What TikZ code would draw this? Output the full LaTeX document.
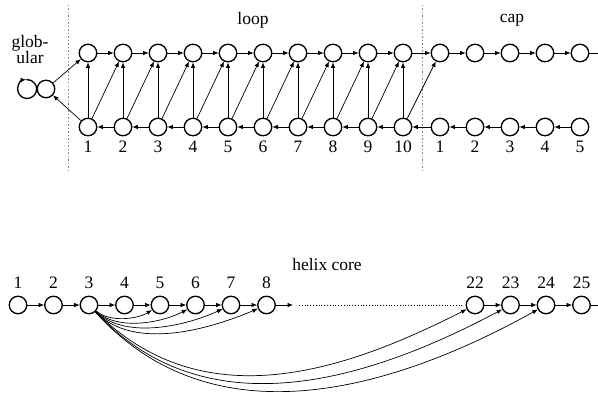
\documentclass[tikz,border=0pt]{standalone}
\usepackage{fontspec}
\setmainfont{Liberation Serif}
\usetikzlibrary{arrows.meta}
\begin{document}
\begin{tikzpicture}[x=1pt,y=1pt,
  res/.style={circle,draw,line width=1.3pt,minimum size=17.5pt,inner sep=0pt},
  arr/.style={line width=0.7pt,-{Latex[length=5.5pt,width=4.5pt]}},
  lbl/.style={font=\fontsize{17.5}{17}\selectfont,inner sep=0pt},
  sep/.style={dashed,dash pattern=on 1.5pt off 2pt,line width=0.6pt,gray}]
\useasboundingbox (0,0) rectangle (598,392);
% separators
\coordinate (s1a) at (68,387); \coordinate (s1b) at (68,222);
\coordinate (s2a) at (422,387); \coordinate (s2b) at (422,220);
\draw[sep] (s1a) -- (s1b);
\draw[sep] (s2a) -- (s2b);
% titles
\node[lbl] (tloop) at (253,372) {loop};
\node[lbl] (tcap) at (512,372) {cap};
\node[lbl,align=center,font=\fontsize{17.5}{16}\selectfont] (tglob) at (30,342) {glob-\\ular};
% globular
\node[res] (g) at (46,303) {};
\draw[line width=1.3pt,-{Latex[length=5.5pt,width=4.5pt]}] (g.west) arc[start angle=0,end angle=-265,radius=9.5pt] coordinate (gtop);
\draw[line width=1.3pt] (gtop) arc[start angle=95,end angle=0,radius=9.5pt];
% loop nodes
\foreach \i in {1,...,10} {
  \node[res] (u\i) at ({88+35*(\i-1)},339) {};
  \node[res] (l\i) at ({88+35*(\i-1)},265) {};
  \node[lbl] (ln\i) at ({88+35*(\i-1)},245) {\i};
}
\foreach \j in {1,...,5} {
  \node[res] (cu\j) at ({440+35*(\j-1)},339) {};
  \node[res] (cl\j) at ({440+35*(\j-1)},265) {};
  \node[lbl] (cn\j) at ({440+35*(\j-1)},245) {\j};
}
\draw[arr] (g) -- (u1);
\draw[arr] (l1) -- (g);
\foreach \i [evaluate=\i as \n using int(\i+1)] in {1,...,9} {
  \draw[arr] (u\i) -- (u\n);
  \draw[arr] (l\n) -- (l\i);
  \draw[arr] (l\i) -- (u\n);
}
\foreach \i in {1,...,10} { \draw[arr] (l\i) -- (u\i); }
\draw[arr] (u10) -- (cu1);
\draw[arr] (cl1) -- (l10);
\draw[arr] (l10) -- (cu1);
\foreach \j [evaluate=\j as \n using int(\j+1)] in {1,...,4} {
  \draw[arr] (cu\j) -- (cu\n);
  \draw[arr] (cl\n) -- (cl\j);
}
\coordinate (cend) at (608,339);
\draw[arr] (cu5) -- (cend);
% helix core
\node[lbl] (thelix) at (327,127) {helix core};
\foreach \i in {1,...,8} {
  \node[res] (b\i) at ({18+35.5*(\i-1)},87) {};
  \node[lbl] (bn\i) at ({18+35.5*(\i-1)},109) {\i};
}
\foreach \i [evaluate=\i as \k using int(\i-22)] in {22,...,25} {
  \node[res] (b\i) at ({475+35.5*\k},87) {};
  \node[lbl] (bn\i) at ({475+35.5*\k},109) {\i};
}
\foreach \i [evaluate=\i as \n using int(\i+1)] in {1,...,7} {
  \draw[arr] (b\i) -- (b\n);
}
\coordinate (bgap) at (293,87);
\draw[arr] (b8) -- (bgap);
\coordinate (dA) at (299,87); \coordinate (dB) at (463,87);
\draw[dotted,line width=0.8pt] (dA) -- (dB);
\draw[arr] (b22) -- (b23);
\draw[arr] (b23) -- (b24);
\draw[arr] (b24) -- (b25);
\coordinate (bend) at (608,87);
\draw[arr] (b25) -- (bend);
% curved contacts
\draw[arr] (b3) .. controls +(-40:28) and +(212:26) .. (b5);
\draw[arr] (b3) .. controls +(-42:40) and +(208:36) .. (b6);
\draw[arr] (b3) .. controls +(-44:52) and +(205:46) .. (b7);
\draw[arr] (b3) .. controls +(-46:66) and +(203:58) .. (b8);
\draw[arr] (b3) .. controls +(-45:160) and +(207:150) .. (b22);
\draw[arr] (b3) .. controls +(-47:172) and +(208:162) .. (b23);
\draw[arr] (b3) .. controls +(-48:186) and +(209:175) .. (b24);
\end{tikzpicture}
\end{document}
